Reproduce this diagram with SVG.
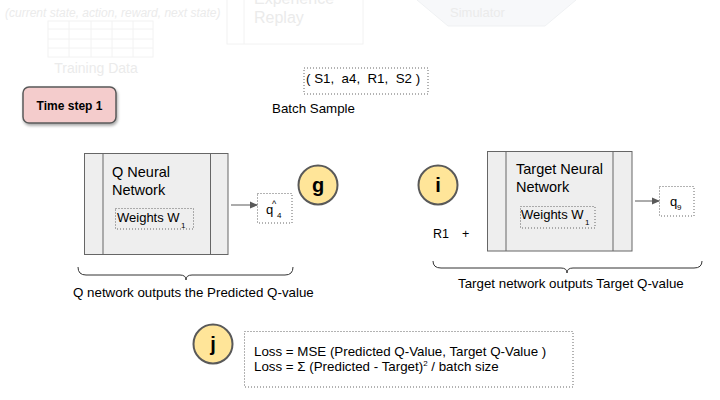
<svg xmlns="http://www.w3.org/2000/svg" width="720" height="400" viewBox="0 0 720 400">
<style>
text{font-family:"Liberation Sans",Arial,sans-serif;fill:#000}
.faint{fill:#ebebeb}
.nn{fill:#eeeeee;stroke:#666666;stroke-width:1}
.dot{fill:none;stroke:#666666;stroke-width:1;stroke-dasharray:1 2}
.badge{fill:#ffe599;stroke:#595959;stroke-width:2}
.btxt{font-size:20px;font-weight:bold;text-anchor:middle}
.brace{fill:none;stroke:#333333;stroke-width:1}
.conn{stroke:#595959;stroke-width:1;fill:none}
.lbl{font-size:13.33px}
</style>
<defs>
<marker id="ah" markerWidth="8" markerHeight="8" refX="7" refY="4" orient="auto" markerUnits="userSpaceOnUse">
<path d="M0,0.5 L8,4 L0,7.5 Z" fill="#595959"/>
</marker>
<filter id="sh" x="-20%" y="-20%" width="150%" height="160%">
<feDropShadow dx="1" dy="2" stdDeviation="1.5" flood-color="#000" flood-opacity="0.35"/>
</filter>
</defs>
<rect width="720" height="400" fill="#ffffff"/>

<g id="faded-background">
<text x="5" y="17" font-size="12" font-style="italic" class="faint">(current state, action, reward, next state)</text>
<g stroke="#f2f2f2" stroke-width="1" fill="none">
<rect x="48" y="21" width="105" height="36"/>
<line x1="48" y1="29" x2="153" y2="29"/>
<line x1="48" y1="39" x2="153" y2="39"/>
<line x1="48" y1="48" x2="153" y2="48"/>
<line x1="69" y1="21" x2="69" y2="57"/>
<line x1="91" y1="21" x2="91" y2="57"/>
<line x1="112" y1="21" x2="112" y2="57"/>
<line x1="133" y1="21" x2="133" y2="57"/>
</g>
<text x="96" y="73" font-size="14" text-anchor="middle" class="faint">Training Data</text>
<g stroke="#f2f2f2" stroke-width="1" fill="#ffffff">
<rect x="227" y="-20" width="136" height="64"/>
<line x1="244" y1="-20" x2="244" y2="44"/>
</g>
<text x="254" y="4" font-size="16" class="faint">Experience</text>
<text x="254" y="23" font-size="16" class="faint">Replay</text>
<polygon points="417,0 448,26 545,26 576,0 545,-26 448,-26" fill="#f7f8fa" stroke="#eff1f3" stroke-width="1"/>
<text x="450" y="17" font-size="13" class="faint">Simulator</text>
</g>

<g id="time-step">
<rect x="23" y="87" width="93" height="36" rx="6" fill="#f4cccc" stroke="#595959" stroke-width="1.5" filter="url(#sh)"/>
<text x="69.5" y="110" font-size="12" font-weight="bold" text-anchor="middle">Time step 1</text>
</g>

<g id="batch-sample">
<rect x="304" y="68" width="124" height="26" class="dot"/>
<text x="306" y="83" class="lbl" xml:space="preserve" style="white-space:pre">( S1,  a4,  R1,  S2 )</text>
<text x="272" y="113" class="lbl">Batch Sample</text>
</g>

<g id="q-network">
<rect x="84.5" y="153.5" width="143.5" height="101" class="nn"/>
<line x1="103" y1="153.5" x2="103" y2="254.5" stroke="#666666"/>
<line x1="210.5" y1="153.5" x2="210.5" y2="254.5" stroke="#666666"/>
<text x="112" y="177" font-size="14.5">Q Neural</text>
<text x="112" y="195" font-size="14.5">Network</text>
<rect x="115.5" y="208.5" width="78" height="20.5" class="dot"/>
<text x="117" y="222" font-size="13">Weights W</text>
<text x="181" y="228" font-size="8">1</text>
</g>

<g id="q-hat">
<rect x="257.5" y="193.5" width="34.5" height="29.5" class="dot"/>
<text x="266" y="214" font-size="13">q</text>
<text x="272" y="207" font-size="9">^</text>
<text x="277" y="218" font-size="8">4</text>
</g>

<g id="badge-g">
<circle cx="318" cy="185" r="19.5" class="badge"/>
<text x="318" y="192" class="btxt">g</text>
</g>

<g id="q-label">
<text x="73" y="297" class="lbl">Q network outputs the Predicted Q-value</text>
</g>

<g id="badge-i">
<circle cx="438" cy="185" r="19.5" class="badge"/>
<text x="438" y="192" class="btxt">i</text>
</g>

<g id="r1-plus">
<text x="433" y="238" font-size="12.5">R1</text>
<text x="462" y="238" font-size="12.5">+</text>
</g>

<g id="target-network">
<rect x="487.5" y="151.5" width="144.5" height="99.5" class="nn"/>
<line x1="506" y1="151.5" x2="506" y2="251" stroke="#666666"/>
<line x1="613" y1="151.5" x2="613" y2="251" stroke="#666666"/>
<text x="516" y="174" font-size="14.5">Target Neural</text>
<text x="516" y="192" font-size="14.5">Network</text>
<rect x="520.5" y="206.5" width="74.5" height="21.5" class="dot"/>
<text x="521" y="219" font-size="13">Weights W</text>
<text x="585" y="225" font-size="8">1</text>
</g>

<g id="q-target">
<rect x="659.5" y="186.5" width="34.5" height="29.5" class="dot"/>
<text x="670" y="206" font-size="13">q</text>
<text x="677" y="210" font-size="8">9</text>
</g>

<g id="target-label">
<text x="458" y="288" class="lbl">Target network outputs Target Q-value</text>
</g>

<g id="badge-j">
<circle cx="213" cy="344" r="19.5" class="badge"/>
<text x="213" y="351" class="btxt">j</text>
</g>

<g id="loss">
<rect x="244.5" y="331.5" width="328.5" height="55.5" class="dot"/>
<text x="254" y="356" class="lbl">Loss = MSE (Predicted Q-Value, Target Q-Value )</text>
<text x="254" y="371" class="lbl">Loss = Σ (Predicted - Target)<tspan font-size="8" dy="-5">2</tspan><tspan dy="5"> / batch size</tspan></text>
</g>

<g id="connectors">
<line x1="231" y1="205" x2="257" y2="205" class="conn" marker-end="url(#ah)"/>
<line x1="635" y1="201" x2="659" y2="201" class="conn" marker-end="url(#ah)"/>
<path class="brace" d="M78,267 Q78,275 86,275 L180,275 Q186,275 186,280 Q186,275 192,275 L285,275 Q293,275 293,267"/>
<path class="brace" d="M433,261 Q433,268 441,268 L561,268 Q567,268 567,273 Q567,268 573,268 L694,268 Q702,268 702,261"/>
</g>
</svg>
